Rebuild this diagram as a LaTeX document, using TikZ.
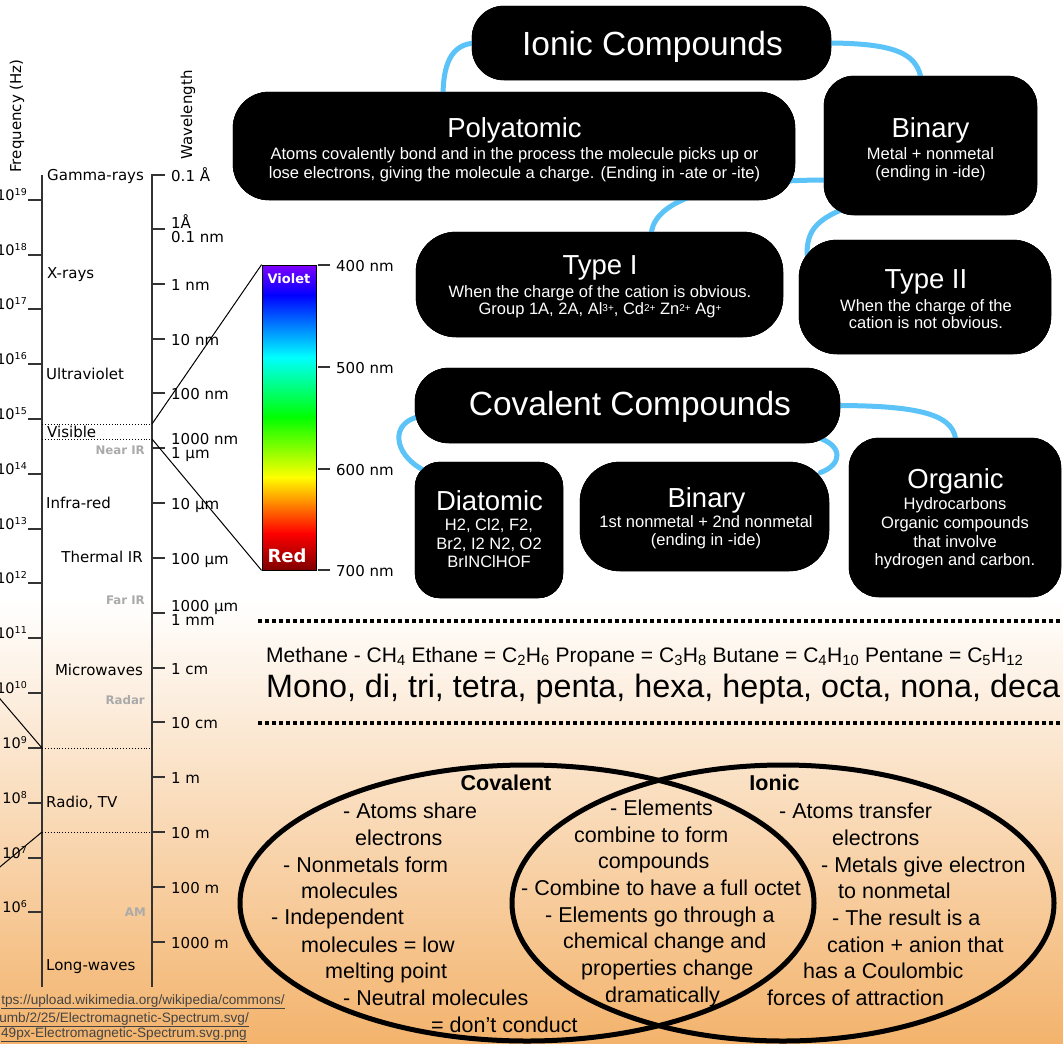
\documentclass[tikz,border=0pt]{standalone}
\usepackage{fontspec}
\setmainfont{Liberation Sans}
\newfontfamily\dvs{DejaVu Sans}
\usetikzlibrary{shapes.geometric}
\definecolor{conn}{HTML}{5BC3F7}
\definecolor{peach}{HTML}{F3B36C}
\definecolor{grlab}{HTML}{AAAAAA}
\definecolor{axiscol}{HTML}{333333}
\definecolor{urlcol}{HTML}{444444}
\newcommand{\fsz}[1]{\fontsize{#1pt}{#1pt}\selectfont}
\begin{document}
\begin{tikzpicture}[x=1pt,y=-1pt,
  blackbox/.style={fill=black, draw=black, inner sep=0pt},
  ttl/.style={anchor=base, text=white, inner sep=0pt, font=\fsz{27.5}},
  bodytxt/.style={anchor=base, text=white, inner sep=0pt, font=\fsz{16.5}},
  link/.style={draw=conn, line width=5pt, line cap=round},
  spl/.style={anchor=base west, inner sep=0pt, font=\dvs\fsz{15}},
  spr/.style={anchor=base east, inner sep=0pt, font=\dvs\fsz{15}},
  grl/.style={anchor=base east, inner sep=0pt, font=\dvs\bfseries\fsz{11.8}, text=grlab},
  venn/.style={anchor=base west, inner sep=0pt, font=\fsz{21.5}},
  vennb/.style={anchor=base, inner sep=0pt, font=\bfseries\fsz{21.5}},
  dotline/.style={line width=4pt, dash pattern=on 4pt off 3pt},
  axline/.style={draw=axiscol, line width=1.5pt},
  urltxt/.style={anchor=base east, inner sep=0pt, font=\fsz{13.6}, text=urlcol}]
\useasboundingbox (0,0) rectangle (1063,1044);
\clip (0,0) rectangle (1063,1044);
\fill[white] (0,0) rectangle (1063,1044);
\shade[top color=white, bottom color=peach] (0,600) rectangle (1063,1044);

% ---------- spectrum ----------
\draw[axline] (42,175) -- (42,987);
\draw[axline] (165,175) -- (152,175) -- (152,987);
\foreach \y/\e in {200/19,255/18,309/17,364/16,419/15,474/14,529/13,583/12,638/11,693/10,748/9,803/8,858/7,912/6}{
  \draw[axline] (28,\y) -- (42,\y);
  \node[anchor=base east, inner sep=0pt, font=\dvs\fsz{14.5}] (f\e) at (27,\y) {10\raisebox{4.8pt}{\fsz{9.5}\e}};
}
\foreach \y in {229,284,339,393,448,503,558,613,668,722,777,832,887,942}{
  \draw[axline] (152,\y) -- (165,\y);
}
\draw[line width=0.9pt, dotted] (42,424) -- (152,424);
\draw[line width=0.9pt, dotted] (42,439) -- (152,439);
\draw[line width=0.9pt, dotted] (42,748) -- (152,748);
\draw[line width=0.9pt, dotted] (42,832) -- (152,832);
\draw[line width=1pt] (-5,693) -- (42,748);
\draw[line width=1pt] (42,832) -- (-5,871);

\node[rotate=90, inner sep=0pt, font=\dvs\fsz{15}] (freqlab) at (17,116) {Frequency (Hz)};
\node[rotate=90, inner sep=0pt, font=\dvs\fsz{15}] (wavelab) at (188,115) {Wavelength};

\node[spl] (gam) at (47,180) {Gamma-rays};
\node[spl] (xr) at (47,278) {X-rays};
\node[spl] (uv) at (46,379) {Ultraviolet};
\node[spl] (vis) at (47,437) {Visible};
\node[grl] (nir) at (145,454) {Near IR};
\node[spl] (ir) at (46,508) {Infra-red};
\node[spr] (tir) at (143,562) {Thermal IR};
\node[grl] (fir) at (145,604) {Far IR};
\node[spr] (mw) at (143,675) {Microwaves};
\node[grl] (radar) at (145,704) {Radar};
\node[spl] (radio) at (46,807) {Radio, TV};
\node[grl] (am) at (146,916) {AM};
\node[spl] (lw) at (46,970) {Long-waves};

\node[spl] (w1) at (171,181) {0.1 Å};
\node[spl] (w2a) at (171,228) {1Å};
\node[spl] (w2b) at (171,242) {0.1 nm};
\node[spl] (w3) at (171,290) {1 nm};
\node[spl] (w4) at (171,345) {10 nm};
\node[spl] (w5) at (171,399) {100 nm};
\node[spl] (w6a) at (171,444) {1000 nm};
\node[spl] (w6b) at (171,458) {1 µm};
\node[spl] (w7) at (171,509) {10 µm};
\node[spl] (w8) at (171,564) {100 µm};
\node[spl] (w9a) at (171,611) {1000 µm};
\node[spl] (w9b) at (171,625) {1 mm};
\node[spl] (w10) at (171,674) {1 cm};
\node[spl] (w11) at (171,728) {10 cm};
\node[spl] (w12) at (171,783) {1 m};
\node[spl] (w13) at (171,838) {10 m};
\node[spl] (w14) at (171,893) {100 m};
\node[spl] (w15) at (171,948) {1000 m};

% colour bar
\shade[top color={rgb,255:red,127;green,0;blue,255}, bottom color=blue] (262,265) rectangle (316,295.5);
\shade[top color=blue, bottom color=cyan] (262,295) rectangle (316,357.5);
\shade[top color=cyan, bottom color=green] (262,357) rectangle (316,417.5);
\shade[top color=green, bottom color=yellow] (262,417) rectangle (316,477.5);
\shade[top color=yellow, bottom color={rgb,255:red,255;green,128;blue,0}] (262,477) rectangle (316,505.5);
\shade[top color={rgb,255:red,255;green,128;blue,0}, bottom color=red] (262,505) rectangle (316,533.5);
\shade[top color=red, bottom color={rgb,255:red,128;green,0;blue,0}] (262,533) rectangle (316,570);
\node[draw=black, line width=0.8pt, minimum width=54pt, minimum height=305pt, inner sep=0pt] (cbar) at (289,417.5) {};
\draw[line width=1pt] (152,424) -- (cbar.north west);
\draw[line width=1pt] (152,439) -- (cbar.south west);
\foreach \y/\t in {265/400,367/500,469/600,570/700}{
  \draw[axline] (318,\y) -- (330,\y);
  \node[spl] (c\t) at (336,\y+6.5) {\t\ nm};
}
\node[anchor=base, inner sep=0pt, text=white, font=\dvs\bfseries\fsz{13}] (violet) at (289,283) {Violet};
\node[anchor=base, inner sep=0pt, text=white, font=\dvs\bfseries\fsz{18}] (redl) at (287,562) {Red};

% ---------- boxes (anchors for connectors) ----------
\node[blackbox, rounded corners=32pt, minimum width=359pt, minimum height=74pt] (ionic) at (651.5,43) {};
\node[blackbox, rounded corners=36pt, minimum width=562pt, minimum height=108pt] (poly) at (514,146) {};
\node[blackbox, rounded corners=30pt, minimum width=213pt, minimum height=139pt] (binI) at (930.5,145.5) {};
\node[blackbox, rounded corners=40pt, minimum width=367pt, minimum height=105pt] (typeI) at (599.5,284.5) {};
\node[blackbox, rounded corners=38pt, minimum width=252pt, minimum height=114pt] (typeII) at (925,297) {};
\node[blackbox, rounded corners=34pt, minimum width=425pt, minimum height=75pt] (cov) at (627.5,405.5) {};
\node[blackbox, rounded corners=25pt, minimum width=148pt, minimum height=136pt] (diat) at (489,530) {};
\node[blackbox, rounded corners=40pt, minimum width=249pt, minimum height=109pt] (binC) at (704.5,516.5) {};
\node[blackbox, rounded corners=30pt, minimum width=212pt, minimum height=159pt] (org) at (955,517.5) {};

% ---------- connectors ----------
\draw[link] ([xshift=5pt]ionic.west) .. controls +(-27,0) and +(0,-30) .. ([xshift=-71pt,yshift=-5pt]poly.north);
\draw[link] ([xshift=-5pt]ionic.east) .. controls +(75,0) and +(-4,-25) .. ([xshift=-9pt,yshift=-5pt]binI.north);
\draw[link] ([xshift=5pt,yshift=-34.5pt]binI.west) .. controls +(-135,0) and +(0,-30) .. ([xshift=51.5pt,yshift=-5pt]typeI.north);
\draw[link] ([xshift=-90pt,yshift=5pt]binI.south) .. controls +(-28,12) and +(0,-20) .. ([xshift=-118pt,yshift=-15pt]typeII.north);
\draw[link] ([xshift=5pt,yshift=-11pt]cov.west) .. controls +(-30,6) and +(-30,-16) .. ([xshift=-66pt,yshift=-8pt]diat.north);
\draw[link] ([xshift=190pt,yshift=-32pt]cov.center) .. controls +(26,8) and +(22,-8) .. ([xshift=116pt,yshift=44pt]binC.center);
\draw[link] ([xshift=-5pt]cov.east) .. controls +(90,0) and +(0,-28) .. ([xshift=1pt,yshift=-6pt]org.north);

% redraw boxes over connectors
\node[blackbox, rounded corners=32pt, minimum width=359pt, minimum height=74pt] (ionicB) at (651.5,43) {};
\node[blackbox, rounded corners=36pt, minimum width=562pt, minimum height=108pt] (polyB) at (514,146) {};
\node[blackbox, rounded corners=30pt, minimum width=213pt, minimum height=139pt] (binIB) at (930.5,145.5) {};
\node[blackbox, rounded corners=40pt, minimum width=367pt, minimum height=105pt] (typeIB) at (599.5,284.5) {};
\node[blackbox, rounded corners=38pt, minimum width=252pt, minimum height=114pt] (typeIIB) at (925,297) {};
\node[blackbox, rounded corners=34pt, minimum width=425pt, minimum height=75pt] (covB) at (627.5,405.5) {};
\node[blackbox, rounded corners=25pt, minimum width=148pt, minimum height=136pt] (diatB) at (489,530) {};
\node[blackbox, rounded corners=40pt, minimum width=249pt, minimum height=109pt] (binCB) at (704.5,516.5) {};
\node[blackbox, rounded corners=30pt, minimum width=212pt, minimum height=159pt] (orgB) at (955,517.5) {};

% ---------- box texts ----------
\node[ttl, font=\fsz{33.5}] (t1) at (652.5,55) {Ionic Compounds};
\node[ttl] (t2) at (514.5,137) {Polyatomic};
\node[bodytxt] (t2a) at (514.5,159) {Atoms covalently bond and in the process the molecule picks up or};
\node[bodytxt] (t2b) at (514.5,178) {lose electrons, giving the molecule a charge. (Ending in -ate or -ite)};
\node[ttl] (t3) at (930.5,137) {Binary};
\node[bodytxt] (t3a) at (930.5,159) {Metal + nonmetal};
\node[bodytxt] (t3b) at (930.5,177) {(ending in -ide)};
\node[ttl] (t4) at (600,274) {Type I};
\node[bodytxt] (t4a) at (600,297) {When the charge of the cation is obvious.};
\node[bodytxt] (t4b) at (600,314) {Group 1A, 2A, Al\raisebox{3pt}{\fsz{10}3+}, Cd\raisebox{3pt}{\fsz{10}2+} Zn\raisebox{3pt}{\fsz{10}2+} Ag\raisebox{3pt}{\fsz{10}+}};
\node[ttl] (t5) at (926,288) {Type II};
\node[bodytxt] (t5a) at (926,311) {When the charge of the};
\node[bodytxt] (t5b) at (926,328) {cation is not obvious.};
\node[ttl, font=\fsz{33.5}] (t6) at (630,415) {Covalent Compounds};
\node[ttl] (t7) at (489.5,510) {Diatomic};
\node[bodytxt] (t7a) at (489,530) {H2, Cl2, F2,};
\node[bodytxt] (t7b) at (489,549) {Br2, I2 N2, O2};
\node[bodytxt] (t7c) at (489,567) {BrINClHOF};
\node[ttl] (t8) at (706.5,507) {Binary};
\node[bodytxt] (t8a) at (706,527) {1st nonmetal + 2nd nonmetal};
\node[bodytxt] (t8b) at (706,545) {(ending in -ide)};
\node[ttl] (t9) at (955.5,488) {Organic};
\node[bodytxt] (t9a) at (955,509) {Hydrocarbons};
\node[bodytxt] (t9b) at (955,528) {Organic compounds};
\node[bodytxt] (t9c) at (955,547) {that involve};
\node[bodytxt] (t9d) at (955,565) {hydrogen and carbon.};

% ---------- middle band ----------
\coordinate (d1s) at (258,621); \coordinate (d1e) at (1063,621);
\coordinate (d2s) at (258,723); \coordinate (d2e) at (1063,723);
\draw[dotline] (d1s) -- (d1e);
\draw[dotline] (d2s) -- (d2e);
\node[anchor=base west, inner sep=0pt] (meth) at (266,662) {\resizebox{757pt}{!}{\fsz{20}Methane - CH\textsubscript{4} Ethane = C\textsubscript{2}H\textsubscript{6} Propane = C\textsubscript{3}H\textsubscript{8} Butane = C\textsubscript{4}H\textsubscript{10} Pentane = C\textsubscript{5}H\textsubscript{12}}};
\node[anchor=base west, inner sep=0pt] (mono) at (266,697) {\resizebox{794pt}{!}{\fsz{32}Mono, di, tri, tetra, penta, hexa, hepta, octa, nona, deca}};

% ---------- Venn ----------
\node[draw, ellipse, line width=5pt, minimum width=574pt, minimum height=276pt, inner sep=0pt] (vcov) at (527,903) {};
\node[draw, ellipse, line width=5pt, minimum width=542pt, minimum height=276pt, inner sep=0pt] (vion) at (783,903) {};
\node[vennb] (vc) at (506,790) {Covalent};
\node[vennb] (vi) at (774.5,790) {Ionic};
\node[venn] (l1) at (343,818) {- Atoms share};
\node[venn] (l2) at (355,845) {electrons};
\node[venn] (l3) at (283,872) {- Nonmetals form};
\node[venn] (l4) at (301,898) {molecules};
\node[venn] (l5) at (271,924) {- Independent};
\node[venn] (l6) at (301,952) {molecules = low};
\node[venn] (l7) at (325,978) {melting point};
\node[venn] (l8) at (343,1005) {- Neutral molecules};
\node[venn] (l9) at (431,1032) {= don’t conduct};
\node[venn] (m1) at (610,815) {- Elements};
\node[venn] (m2) at (574,842) {combine to form};
\node[venn] (m3) at (598,868) {compounds};
\node[venn] (m4) at (521,895) {- Combine to have a full octet};
\node[venn] (m5) at (545,922) {- Elements go through a};
\node[venn] (m6) at (563,948) {chemical change and};
\node[venn] (m7) at (581,975) {properties change};
\node[venn] (m8) at (605,1002) {dramatically};
\node[venn] (r1) at (779,818) {- Atoms transfer};
\node[venn] (r2) at (832,845) {electrons};
\node[venn] (r3) at (821,872) {- Metals give electron};
\node[venn] (r4) at (838,898) {to nonmetal};
\node[venn] (r5) at (832,925) {- The result is a};
\node[venn] (r6) at (827,952) {cation + anion that};
\node[venn] (r7) at (803,978) {has a Coulombic};
\node[venn] (r8) at (767,1005) {forces of attraction};

% ---------- URL ----------
\node[urltxt] (u1) at (285,1004) {\underline{tps://upload.wikimedia.org/wikipedia/commons/}};
\node[urltxt] (u2) at (249,1022) {\underline{umb/2/25/Electromagnetic-Spectrum.svg/}};
\node[urltxt] (u3) at (247,1037) {\underline{49px-Electromagnetic-Spectrum.svg.png}};
\end{tikzpicture}
\end{document}
